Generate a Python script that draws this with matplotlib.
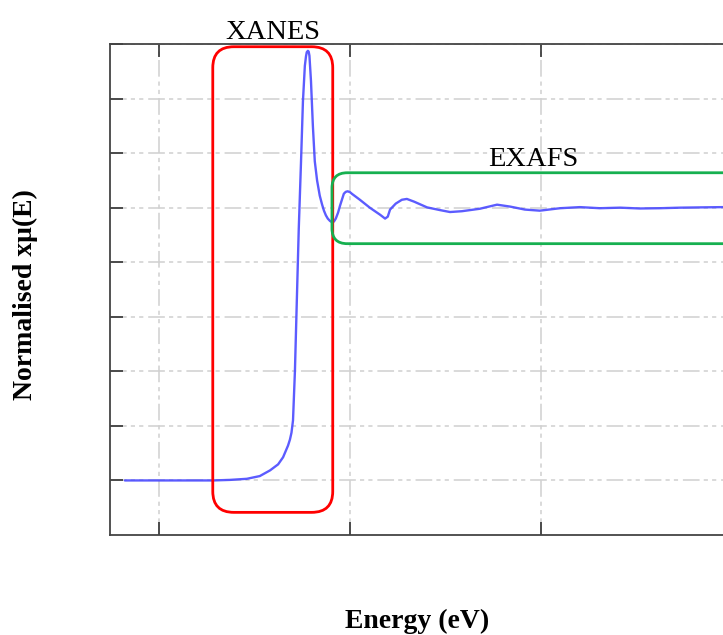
import matplotlib
matplotlib.use("Agg")
import matplotlib.pyplot as plt
from matplotlib.patches import FancyBboxPatch

plt.rcParams['font.family'] = ['Liberation Serif', 'DejaVu Serif']
plt.rcParams['lines.scale_dashes'] = False

# ---- data ----
energy = [8941.1, 8950.3, 8964.1, 8968.6, 8973.0, 8976.4, 8979.1, 8981.2, 8982.5,
          8983.8, 8984.3, 8984.7, 8985.1, 8985.6, 8986.1, 8986.6, 8987.2, 8987.7,
          8988.2, 8988.5, 8988.7, 8989.0, 8989.2, 8989.4, 8989.8, 8990.3, 8990.8,
          8991.4, 8992.1, 8992.7, 8993.2, 8993.7, 8994.2, 8994.8, 8995.3, 8995.8,
          8996.3, 8996.9, 8997.4, 8998.4, 8998.9, 8999.4, 9000.0, 9000.5, 9002.6,
          9005.2, 9007.9, 9009.2, 9009.9, 9010.5, 9012.0, 9013.6, 9014.9, 9016.8,
          9020.2, 9023.6, 9026.2, 9029.3, 9034.0, 9038.5, 9041.9, 9045.8, 9049.7,
          9055.0, 9060.2, 9065.4, 9070.7, 9075.9, 9081.2, 9086.4, 9091.6, 9097.6,
          9105.0]
mu = [0.0, 0.0, 0.0, 0.002, 0.006, 0.016, 0.037, 0.059, 0.085,
      0.128, 0.150, 0.175, 0.22, 0.40, 0.66, 0.92, 1.17, 1.39,
      1.52, 1.555, 1.57, 1.575, 1.572, 1.557, 1.465, 1.30, 1.17,
      1.10, 1.044, 1.012, 0.989, 0.972, 0.96, 0.951, 0.947, 0.949,
      0.96, 0.982, 1.007, 1.051, 1.058, 1.06, 1.057, 1.051, 1.029,
      1.0, 0.974, 0.96, 0.967, 0.993, 1.015, 1.029, 1.032, 1.022,
      1.001, 0.991, 0.984, 0.987, 0.996, 1.011, 1.004, 0.993, 0.989,
      0.998, 1.002, 0.998, 1.0, 0.997, 0.998, 1.0, 1.001, 1.002,
      1.0]

x_ticks = [8950, 9000, 9050, 9100]
y_ticks = [0.0, 0.2, 0.4, 0.6, 0.8, 1.0, 1.2, 1.4, 1.6]

xanes_region = (8964.1, 8995.5, -0.117, 1.59)   # x0, x1, y0, y1
exafs_region = (8995.3, 9115.0, 0.868, 1.128)

# ---- figure ----
W, H = 723, 635
fig = plt.figure(figsize=(W / 100, H / 100), dpi=100)
ax_left, ax_bottom = 110 / W, (H - 535) / H
ax_w, ax_h = (770.2 - 110) / W, (535 - 44) / H
ax = fig.add_axes([ax_left, ax_bottom, ax_w, ax_h])

ax.plot(energy, mu, color='#4a4aff', lw=1.7, alpha=0.9, zorder=3,
        solid_joinstyle='round', solid_capstyle='round')

ax.set_xlim(8937.2, 9110.0)
ax.set_ylim(-0.2, 1.6)
ax.set_xticks(x_ticks)
ax.set_yticks(y_ticks)
ax.tick_params(direction='in', length=9.5, width=1.2, color='#333333',
               labelbottom=False, labelleft=False, top=True, right=True)
for s in ax.spines.values():
    s.set_color('#444444')
    s.set_linewidth(1.3)

ax.grid(True, color='#d0d0d0', lw=1.1, linestyle=(0, (12, 3, 3, 3, 3, 3.5)))
ax.set_axisbelow(True)

# rounded regions
px_x = 3.82      # pixels per eV
px_y = 273.0     # pixels per unit
aspect = (1 / px_y) / (1 / px_x)

x0, x1, y0, y1 = xanes_region
ax.add_patch(FancyBboxPatch((x0, y0), x1 - x0, y1 - y0,
                            boxstyle="round,pad=0,rounding_size=5.5",
                            mutation_aspect=aspect, fill=False,
                            ec='#ff0000', lw=2.0, zorder=4, clip_on=False))
x0, x1, y0, y1 = exafs_region
ax.add_patch(FancyBboxPatch((x0, y0), x1 - x0, y1 - y0,
                            boxstyle="round,pad=0,rounding_size=4.0",
                            mutation_aspect=aspect, fill=False,
                            ec='#16b050', lw=2.0, zorder=4, clip_on=False))

ax.text(8979.8, 1.619, 'XANES', fontsize=20.5, ha='center', va='baseline',
        clip_on=False)
ax.text(9047.9, 1.151, 'EXAFS', fontsize=20.5, ha='center', va='baseline')

ax.set_xlabel('Energy (eV)', fontsize=20, fontweight='bold')
ax.set_ylabel('Normalised xμ(E)', fontsize=20, fontweight='bold')
ax.xaxis.set_label_coords((417 - 110) / 660.2, (535 - 609) / 491)
ax.yaxis.set_label_coords((38 - 110) / 660.2, (535 - 295) / 491)

fig.savefig('out.png', dpi=100)
